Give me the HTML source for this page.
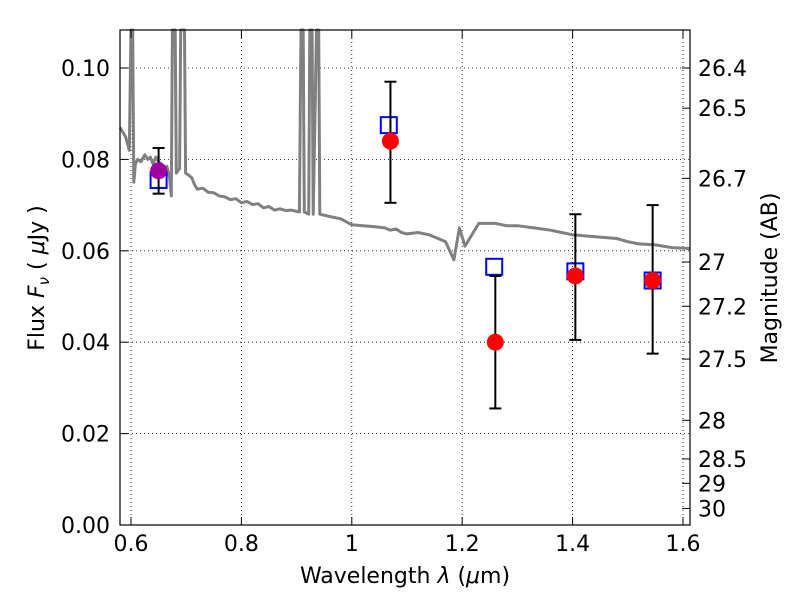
<!DOCTYPE html>
<html><head><meta charset="utf-8"><style>
body{margin:0;background:#fff}
svg text{font-family:"DejaVu Sans","Liberation Sans",sans-serif;fill:#000}
</style></head><body>
<svg id="chart" width="800" height="600" xmlns="http://www.w3.org/2000/svg">
<g id="grid"></g>
<g id="spec"></g>
<g id="pts"></g>
<rect x="120" y="30" width="570" height="495" fill="none" stroke="#000" stroke-width="1.2"/>
<g id="ticks"></g>
<text x="405" y="583" font-size="22" text-anchor="middle">Wavelength  <tspan font-style="italic">λ</tspan> (<tspan font-style="italic">μ</tspan>m)</text>
<text transform="translate(44,278) rotate(-90)" font-size="22" text-anchor="middle">Flux  <tspan font-style="italic">F</tspan><tspan font-style="italic" font-size="15" dy="5">ν</tspan><tspan dy="-5">  ( </tspan><tspan font-style="italic">μ</tspan>Jy )</text>
<text transform="translate(777,278) rotate(-90)" font-size="22" text-anchor="middle">Magnitude (AB)</text>
</svg>
<script>
const xTicks=[0.6,0.8,1.0,1.2,1.4,1.6];
const xTickLabels=["0.6","0.8","1","1.2","1.4","1.6"];
const yTicks=[0,0.02,0.04,0.06,0.08,0.10];
const yTickLabels=["0.00","0.02","0.04","0.06","0.08","0.10"];
const magTicks=[26.4,26.5,26.7,27,27.2,27.5,28,28.5,29,30];
const magLabels=["26.4","26.5","26.7","27","27.2","27.5","28","28.5","29","30"];
const specLam=[0.58,0.59,0.597,0.600,0.603,0.605,0.608,0.612,0.618,0.625,0.63,0.635,0.64,0.645,0.65,0.655,0.66,0.665,0.670,0.673,0.675,0.680,0.682,0.688,0.690,0.697,0.699,0.705,0.71,0.715,0.72,0.73,0.74,0.75,0.76,0.77,0.78,0.79,0.80,0.81,0.82,0.83,0.84,0.85,0.86,0.87,0.88,0.89,0.905,0.908,0.912,0.914,0.922,0.924,0.928,0.930,0.936,0.940,0.942,0.96,0.98,1.0,1.02,1.04,1.06,1.07,1.08,1.09,1.10,1.12,1.14,1.16,1.17,1.185,1.195,1.205,1.23,1.26,1.28,1.30,1.33,1.36,1.38,1.40,1.43,1.45,1.48,1.50,1.52,1.55,1.58,1.613];
const specFlux=[0.087,0.085,0.082,0.11,0.11,0.075,0.079,0.080,0.0795,0.081,0.080,0.0805,0.079,0.0805,0.0795,0.079,0.078,0.0785,0.076,0.072,0.11,0.11,0.077,0.078,0.11,0.11,0.077,0.0765,0.076,0.0745,0.0735,0.0737,0.0728,0.0727,0.072,0.0718,0.0712,0.0714,0.0705,0.0708,0.0701,0.0703,0.0694,0.0697,0.0689,0.0692,0.0688,0.0689,0.0685,0.11,0.11,0.0685,0.068,0.11,0.11,0.068,0.11,0.11,0.068,0.0675,0.067,0.0657,0.0655,0.0653,0.065,0.0645,0.0648,0.064,0.0637,0.064,0.0635,0.0625,0.062,0.058,0.065,0.061,0.066,0.066,0.0655,0.0655,0.065,0.0645,0.064,0.0635,0.0632,0.063,0.0627,0.062,0.0615,0.0613,0.0607,0.0605];
const obsLam=[1.07,1.26,1.405,1.545];
const obsFlux=[0.084,0.040,0.0545,0.0535];
const obsLo=[0.0705,0.0255,0.0405,0.0375];
const obsHi=[0.097,0.0545,0.068,0.070];
const hstLam=[0.65];const hstFlux=[0.0775];const hstLo=[0.0725];const hstHi=[0.0825];
const modLam=[0.65,1.067,1.258,1.405,1.545];
const modFlux=[0.0755,0.0875,0.0565,0.0555,0.0535];
const X=l=>131+(l-0.6)*552, Y=f=>525-f*4570;
const NS="http://www.w3.org/2000/svg";
function mk(t,a,p){const e=document.createElementNS(NS,t);for(const k in a)e.setAttribute(k,a[k]);p.appendChild(e);return e;}
const grid=document.getElementById('grid'),ticks=document.getElementById('ticks');
xTicks.forEach((v,i)=>{const x=X(v);
 let g=mk('line',{x1:x,x2:x,y1:30,y2:525,stroke:'#000','stroke-dasharray':'1,3','stroke-width':0.8},grid);
 
 mk('line',{x1:x,x2:x,y1:525,y2:517,stroke:'#000'},ticks);mk('line',{x1:x,x2:x,y1:30,y2:38,stroke:'#000'},ticks);
 const t=mk('text',{x:x,y:551,'font-size':22,'text-anchor':'middle'},ticks);t.textContent=xTickLabels[i];
 });
yTicks.forEach((v,i)=>{const y=Y(v);
 let g=mk('line',{x1:120,x2:690,y1:y,y2:y,stroke:'#000','stroke-dasharray':'1,3','stroke-width':0.8},grid);
 
 mk('line',{x1:120,x2:128,y1:y,y2:y,stroke:'#000'},ticks);
 const t=mk('text',{x:110,y:y+8,'font-size':22,'text-anchor':'end'},ticks);t.textContent=yTickLabels[i];
 });
magTicks.forEach((m,i)=>{const y=Y(Math.pow(10,(23.9-m)/2.5));
 mk('line',{x1:682,x2:690,y1:y,y2:y,stroke:'#000'},ticks);
 const t=mk('text',{x:698,y:y+8,'font-size':22},ticks);t.textContent=magLabels[i];
 });
const spec=document.getElementById('spec');
const d=specLam.map((l,i)=>(i?'L':'M')+X(l).toFixed(1)+','+Math.max(30,Y(specFlux[i])).toFixed(1)).join('');
const sp=mk('path',{d:d,fill:'none',stroke:'#808080','stroke-width':3,'stroke-linejoin':'round'},spec);

const pts=document.getElementById('pts');
function err(l,lo,hi){const x=X(l);mk('line',{x1:x,x2:x,y1:Y(lo),y2:Y(hi),stroke:'#000','stroke-width':2},pts);
 mk('line',{x1:x-6,x2:x+6,y1:Y(lo),y2:Y(lo),stroke:'#000','stroke-width':2},pts);
 mk('line',{x1:x-6,x2:x+6,y1:Y(hi),y2:Y(hi),stroke:'#000','stroke-width':2},pts);}
modLam.forEach((l,i)=>{const r=mk('rect',{x:X(l)-8,y:Y(modFlux[i])-8,width:16,height:16,fill:'none',stroke:'#0000ff','stroke-width':2},pts);
 });
hstLam.forEach((l,i)=>{err(l,hstLo[i],hstHi[i]);const c=mk('circle',{cx:X(l),cy:Y(hstFlux[i]),r:8.5,fill:'#a000a0'},pts);
 });
obsLam.forEach((l,i)=>{err(l,obsLo[i],obsHi[i]);const c=mk('circle',{cx:X(l),cy:Y(obsFlux[i]),r:8.5,fill:'#ff0000'},pts);
 });
</script>
</body></html>
